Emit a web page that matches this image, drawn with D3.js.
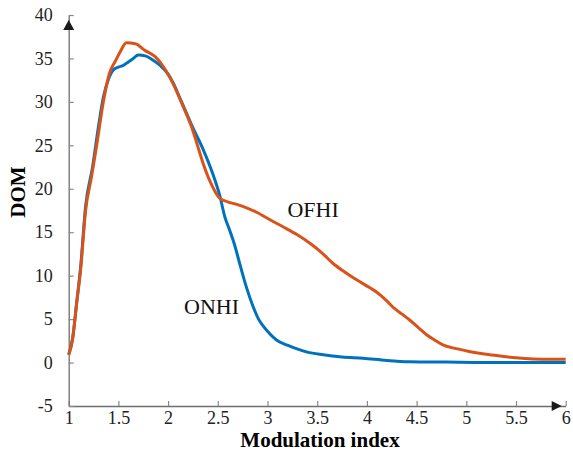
<!DOCTYPE html>
<html>
<head>
<meta charset="utf-8">
<script src="https://cdnjs.cloudflare.com/ajax/libs/d3/7.8.5/d3.min.js"></script>
<style>
  body { margin: 0; background: #fff; }
</style>
</head>
<body>
<div id="chart"></div>
<script>
// modulation index samples, ONHI curve
var onhiX = [1.00, 1.04, 1.08, 1.12, 1.17, 1.24, 1.30, 1.35, 1.40, 1.45, 1.50, 1.55, 1.60, 1.65, 1.70,
    1.77, 1.85, 1.92, 2.00, 2.05, 2.12, 2.20, 2.25, 2.35, 2.45, 2.52, 2.57, 2.62, 2.67, 2.72, 2.79,
    2.85, 2.91, 3.00, 3.09, 3.20, 3.29, 3.40, 3.56, 3.75, 3.96, 4.20, 4.43, 4.80, 5.20, 5.60, 6.00];
var onhiY = [0.9, 2.8, 6.9, 11.0, 18.0, 22.5, 27.2, 30.6, 32.6, 33.7, 34.0, 34.2, 34.6, 35.0, 35.4,
    35.3, 34.8, 34.2, 33.2, 32.2, 30.4, 28.3, 27.0, 24.6, 21.7, 19.2, 16.8, 15.2, 13.5, 11.4, 8.6,
    6.6, 5.0, 3.6, 2.6, 2.0, 1.6, 1.2, 0.9, 0.65, 0.5, 0.25, 0.1, 0.05, 0.0, 0.0, 0.0];

// OFHI curve
var ofhiX = [1.00, 1.04, 1.08, 1.12, 1.17, 1.23, 1.28, 1.35, 1.41, 1.47, 1.52, 1.58, 1.67, 1.77, 1.87,
    1.95, 2.05, 2.15, 2.24, 2.29, 2.35, 2.42, 2.52, 2.60, 2.69, 2.79, 2.89, 3.03, 3.16, 3.30, 3.43,
    3.55, 3.66, 3.78, 3.90, 4.03, 4.10, 4.20, 4.27, 4.35, 4.43, 4.52, 4.60, 4.68, 4.77, 4.90, 5.04,
    5.20, 5.34, 5.50, 5.67, 5.85, 6.00];
var ofhiY = [0.9, 2.8, 6.8, 10.7, 17.5, 21.4, 24.9, 30.1, 33.3, 34.7, 35.8, 36.8, 36.7, 35.9, 35.2,
    34.1, 32.1, 29.5, 27.0, 25.2, 23.0, 20.9, 18.9, 18.5, 18.2, 17.8, 17.3, 16.4, 15.6, 14.7, 13.7,
    12.6, 11.4, 10.4, 9.5, 8.6, 8.1, 7.1, 6.3, 5.6, 4.9, 4.0, 3.2, 2.6, 2.0, 1.6, 1.25,
    0.95, 0.75, 0.55, 0.42, 0.38, 0.38];

var xTicks = [1, 1.5, 2, 2.5, 3, 3.5, 4, 4.5, 5, 5.5, 6];
var yTicks = [-5, 0, 5, 10, 15, 20, 25, 30, 35, 40];

var width = 573, height = 458,
    serif = "Liberation Serif, DejaVu Serif, serif";

var svg = d3.select("#chart").append("svg")
    .attr("width", width)
    .attr("height", height)
    .style("font-family", serif);

var xScale = d3.scaleLinear().domain([1, 6]).range([68.7, 565.7]),
    yScale = d3.scaleLinear().domain([-5, 40]).range([406, 15]);

var xAxis = d3.axisBottom(xScale).tickValues(xTicks).tickSizeInner(-5).tickSizeOuter(0).tickPadding(5)
    .tickFormat(function(d) { return d; });
var yAxis = d3.axisLeft(yScale).tickValues(yTicks).tickSizeInner(-5).tickSizeOuter(0).tickPadding(16)
    .tickFormat(function(d) { return d; });

var gx = svg.append("g")
    .attr("transform", "translate(0," + yScale(-5) + ")")
    .call(xAxis);
var gy = svg.append("g")
    .attr("transform", "translate(" + xScale(1) + ",0)")
    .call(yAxis);

[gx, gy].forEach(function(g) {
    g.attr("font-family", null).attr("font-size", null);
    g.select(".domain").attr("stroke", "#6e6e6e").attr("stroke-width", 1.3);
    g.selectAll(".tick line").attr("stroke", "#8a8a8a").attr("stroke-width", 1.2);
    g.selectAll(".tick text")
        .attr("fill", "#222")
        .style("font-family", serif)
        .style("font-size", "18px");
});

// arrow heads
var ax = xScale(1), ay = yScale(-5);
svg.append("path")
    .attr("d", "M" + (ax - 5.5) + "," + (yScale(40) + 15) + "L" + ax + "," + (yScale(40) + 5) + "L" + (ax + 5.5) + "," + (yScale(40) + 15) + "Z")
    .attr("fill", "#1a1a1a");
svg.append("path")
    .attr("d", "M" + (xScale(6) - 14) + "," + (ay - 5) + "L" + (xScale(6) - 4) + "," + ay + "L" + (xScale(6) - 14) + "," + (ay + 5) + "Z")
    .attr("fill", "#1a1a1a");

var line = d3.line()
    .x(function(d) { return xScale(d[0]); })
    .y(function(d) { return yScale(d[1]); })
    .curve(d3.curveMonotoneX);

svg.append("path")
    .datum(d3.zip(onhiX, onhiY))
    .attr("fill", "none")
    .attr("stroke", "#0072BD")
    .attr("stroke-width", 3)
    .attr("d", line);

svg.append("path")
    .datum(d3.zip(ofhiX, ofhiY))
    .attr("fill", "none")
    .attr("stroke", "#D95319")
    .attr("stroke-width", 3)
    .attr("d", line);

// curve labels
svg.append("text")
    .attr("x", xScale(3.2)).attr("y", yScale(16.7))
    .style("font-size", "22px").attr("fill", "#111")
    .text("OFHI");
svg.append("text")
    .attr("x", xScale(2.16)).attr("y", yScale(5.6))
    .style("font-size", "22px").attr("fill", "#111")
    .text("ONHI");

// axis titles
svg.append("text")
    .attr("x", 320).attr("y", 447)
    .attr("text-anchor", "middle")
    .style("font-size", "21px").style("font-weight", "bold")
    .text("Modulation index");
svg.append("text")
    .attr("transform", "translate(25,192) rotate(-90)")
    .attr("text-anchor", "middle")
    .style("font-size", "21px").style("font-weight", "bold")
    .text("DOM");
</script>
</body>
</html>
